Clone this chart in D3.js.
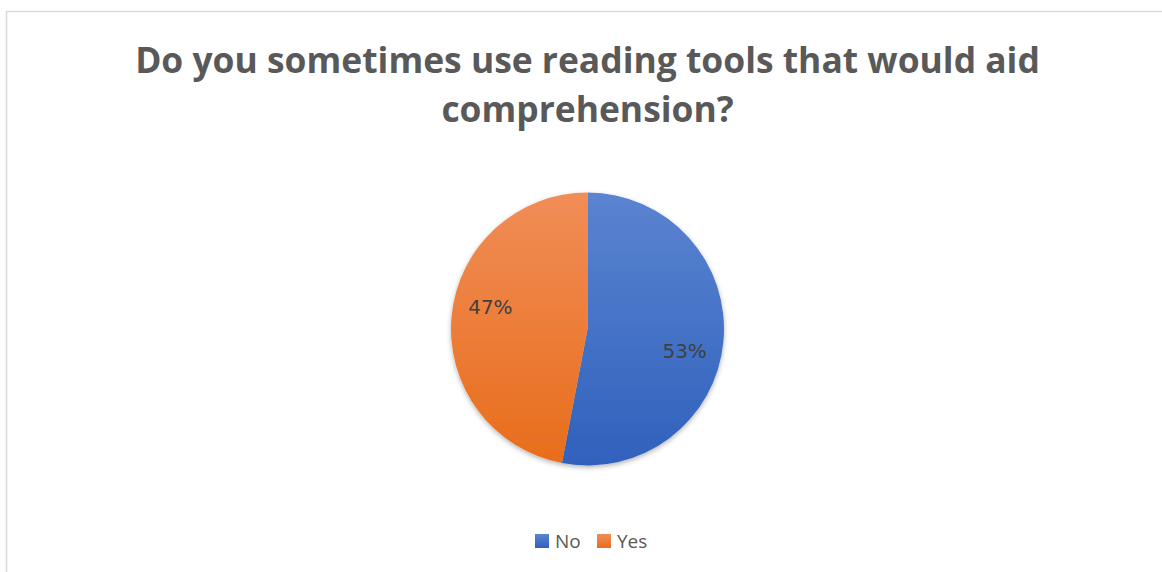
<!DOCTYPE html>
<html><head><meta charset="utf-8">
<script src="https://cdn.jsdelivr.net/npm/d3@7"></script>
<style>html,body{margin:0;padding:0;background:#fff;overflow:hidden}</style>
</head><body>
<svg id="chart" width="1162" height="572"></svg>
<script>
const titleLines = ["Do you sometimes use reading tools that would aid", "comprehension?"];
const categories = ["No", "Yes"];
const values = [53, 47];
const labels = ["53%", "47%"];
const topColors = ["#5b84d1", "#f18d57"];
const bottomColors = ["#2f61bc", "#e86d1b"];

const svg = d3.select("#chart");
const W = 1162, H = 572;
svg.append("rect").attr("x", 6.5).attr("y", 11.5).attr("width", W + 10).attr("height", H + 10)
  .attr("fill", "#fff").attr("stroke", "#d9d9d9").attr("stroke-width", 1.5);

const cx = 587.5, cy = 329, r = 136.5;

// title
const tl = svg.append("g").selectAll("text").data(titleLines).join("text")
  .attr("x", cx).attr("y", (d, i) => 73 + i * 49)
  .attr("text-anchor", "middle")
  .attr("font-family", "'Open Sans', sans-serif").attr("font-weight", "bold")
  .attr("font-size", 36).attr("fill", "#595959").text(d => d);
const w0 = tl.nodes()[0].getComputedTextLength();
tl.attr("font-size", 36 * 905 / w0);

// gradients
const defs = svg.append("defs");
categories.forEach((c, i) => {
  const g = defs.append("linearGradient").attr("id", "grad" + i)
    .attr("gradientUnits", "userSpaceOnUse")
    .attr("x1", 0).attr("y1", -r).attr("x2", 0).attr("y2", r);
  g.append("stop").attr("offset", "0%").attr("stop-color", topColors[i]);
  g.append("stop").attr("offset", "100%").attr("stop-color", bottomColors[i]);
  const lg = defs.append("linearGradient").attr("id", "lg" + i).attr("x1", 0).attr("y1", 0).attr("x2", 0).attr("y2", 1);
  lg.append("stop").attr("offset", "0%").attr("stop-color", topColors[i]);
  lg.append("stop").attr("offset", "100%").attr("stop-color", bottomColors[i]);
});
const f = defs.append("filter").attr("id", "shadow").attr("x", "-20%").attr("y", "-20%").attr("width", "140%").attr("height", "140%");
f.append("feDropShadow").attr("dx", 0).attr("dy", 2).attr("stdDeviation", 2.5).attr("flood-color", "#000").attr("flood-opacity", 0.3);

const pie = d3.pie().sort(null).value(d => d)(values);
const arc = d3.arc().innerRadius(0).outerRadius(r);
const gp = svg.append("g").attr("transform", `translate(${cx},${cy})`);
gp.append("g").attr("filter", "url(#shadow)").selectAll("path").data(pie).join("path")
  .attr("d", arc)
  .attr("fill", (d, i) => `url(#grad${i})`);

const labelR = r * 0.73, labelShift = 7.5 * Math.PI / 180;
gp.selectAll("text.lbl").data(pie).join("text").attr("class", "lbl")
  .attr("transform", d => {
    const a = (d.startAngle + d.endAngle) / 2 + labelShift;
    return `translate(${labelR * Math.sin(a)},${-labelR * Math.cos(a)})`;
  })
  .attr("text-anchor", "middle").attr("dy", "0.36em")
  .attr("font-family", "'DejaVu Sans', sans-serif").attr("font-size", 20)
  .attr("fill", "#404040").text((d, i) => labels[i]);

// legend
const legend = svg.append("g");
const lx = [535, 597];
categories.forEach((c, i) => {
  legend.append("rect").attr("x", lx[i]).attr("y", 534).attr("width", 14).attr("height", 14)
    .attr("fill", `url(#lg${i})`);
  legend.append("text").attr("x", lx[i] + 20).attr("y", 548)
    .attr("font-family", "'Open Sans', sans-serif").attr("font-size", 19)
    .attr("fill", "#595959").text(c);
});
</script>
</body></html>
